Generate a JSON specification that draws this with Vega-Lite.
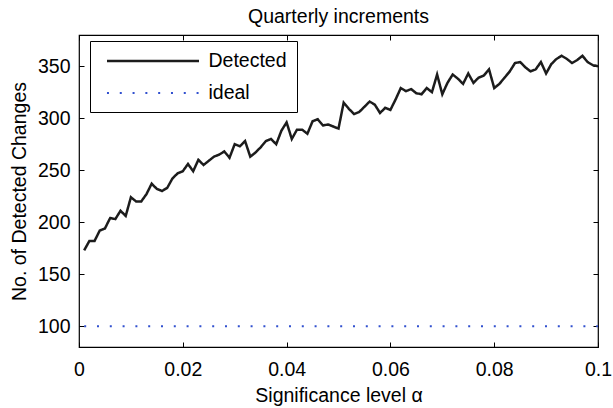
{
  "$schema": "https://vega.github.io/schema/vega-lite/v6.json",
  "autosize": {"type": "none"},
  "padding": {"left": 79, "top": 35, "right": 15, "bottom": 61},
  "width": 519,
  "height": 312,
  "background": "white",
  "title": {
    "text": "Quarterly increments",
    "font": "Liberation Sans",
    "fontSize": 19.5,
    "fontWeight": "normal",
    "color": "black",
    "offset": 7
  },
  "config": {
    "view": {"stroke": "black", "strokeWidth": 1.2},
    "axis": {
      "labelFont": "Liberation Sans",
      "titleFont": "Liberation Sans",
      "labelFontSize": 19.5,
      "titleFontSize": 19.5,
      "titleFontWeight": "normal",
      "labelColor": "black",
      "titleColor": "black",
      "domain": false,
      "grid": false,
      "tickColor": "black",
      "tickSize": -5,
      "tickWidth": 1
    }
  },
  "data": {
    "values": [
      {"alpha": 0.001, "count": 173, "series": "Detected"},
      {"alpha": 0.002, "count": 182, "series": "Detected"},
      {"alpha": 0.003, "count": 182, "series": "Detected"},
      {"alpha": 0.004, "count": 192, "series": "Detected"},
      {"alpha": 0.005, "count": 194, "series": "Detected"},
      {"alpha": 0.006, "count": 204, "series": "Detected"},
      {"alpha": 0.007, "count": 203, "series": "Detected"},
      {"alpha": 0.008, "count": 211, "series": "Detected"},
      {"alpha": 0.009, "count": 206, "series": "Detected"},
      {"alpha": 0.010, "count": 224, "series": "Detected"},
      {"alpha": 0.011, "count": 220, "series": "Detected"},
      {"alpha": 0.012, "count": 220, "series": "Detected"},
      {"alpha": 0.013, "count": 227, "series": "Detected"},
      {"alpha": 0.014, "count": 237, "series": "Detected"},
      {"alpha": 0.015, "count": 232, "series": "Detected"},
      {"alpha": 0.016, "count": 230, "series": "Detected"},
      {"alpha": 0.017, "count": 233, "series": "Detected"},
      {"alpha": 0.018, "count": 242, "series": "Detected"},
      {"alpha": 0.019, "count": 247, "series": "Detected"},
      {"alpha": 0.020, "count": 249, "series": "Detected"},
      {"alpha": 0.021, "count": 256, "series": "Detected"},
      {"alpha": 0.022, "count": 249, "series": "Detected"},
      {"alpha": 0.023, "count": 260, "series": "Detected"},
      {"alpha": 0.024, "count": 255, "series": "Detected"},
      {"alpha": 0.025, "count": 259, "series": "Detected"},
      {"alpha": 0.026, "count": 263, "series": "Detected"},
      {"alpha": 0.027, "count": 265, "series": "Detected"},
      {"alpha": 0.028, "count": 268, "series": "Detected"},
      {"alpha": 0.029, "count": 262, "series": "Detected"},
      {"alpha": 0.030, "count": 275, "series": "Detected"},
      {"alpha": 0.031, "count": 273, "series": "Detected"},
      {"alpha": 0.032, "count": 278, "series": "Detected"},
      {"alpha": 0.033, "count": 263, "series": "Detected"},
      {"alpha": 0.034, "count": 267, "series": "Detected"},
      {"alpha": 0.035, "count": 272, "series": "Detected"},
      {"alpha": 0.036, "count": 278, "series": "Detected"},
      {"alpha": 0.037, "count": 280, "series": "Detected"},
      {"alpha": 0.038, "count": 275, "series": "Detected"},
      {"alpha": 0.039, "count": 288, "series": "Detected"},
      {"alpha": 0.040, "count": 296, "series": "Detected"},
      {"alpha": 0.041, "count": 280, "series": "Detected"},
      {"alpha": 0.042, "count": 289, "series": "Detected"},
      {"alpha": 0.043, "count": 289, "series": "Detected"},
      {"alpha": 0.044, "count": 285, "series": "Detected"},
      {"alpha": 0.045, "count": 297, "series": "Detected"},
      {"alpha": 0.046, "count": 299, "series": "Detected"},
      {"alpha": 0.047, "count": 293, "series": "Detected"},
      {"alpha": 0.048, "count": 294, "series": "Detected"},
      {"alpha": 0.049, "count": 292, "series": "Detected"},
      {"alpha": 0.050, "count": 290, "series": "Detected"},
      {"alpha": 0.051, "count": 315, "series": "Detected"},
      {"alpha": 0.052, "count": 309, "series": "Detected"},
      {"alpha": 0.053, "count": 304, "series": "Detected"},
      {"alpha": 0.054, "count": 306, "series": "Detected"},
      {"alpha": 0.055, "count": 311, "series": "Detected"},
      {"alpha": 0.056, "count": 316, "series": "Detected"},
      {"alpha": 0.057, "count": 313, "series": "Detected"},
      {"alpha": 0.058, "count": 305, "series": "Detected"},
      {"alpha": 0.059, "count": 310, "series": "Detected"},
      {"alpha": 0.060, "count": 308, "series": "Detected"},
      {"alpha": 0.061, "count": 318, "series": "Detected"},
      {"alpha": 0.062, "count": 329, "series": "Detected"},
      {"alpha": 0.063, "count": 326, "series": "Detected"},
      {"alpha": 0.064, "count": 328, "series": "Detected"},
      {"alpha": 0.065, "count": 324, "series": "Detected"},
      {"alpha": 0.066, "count": 323, "series": "Detected"},
      {"alpha": 0.067, "count": 329, "series": "Detected"},
      {"alpha": 0.068, "count": 325, "series": "Detected"},
      {"alpha": 0.069, "count": 342, "series": "Detected"},
      {"alpha": 0.070, "count": 323, "series": "Detected"},
      {"alpha": 0.071, "count": 334, "series": "Detected"},
      {"alpha": 0.072, "count": 342, "series": "Detected"},
      {"alpha": 0.073, "count": 338, "series": "Detected"},
      {"alpha": 0.074, "count": 333, "series": "Detected"},
      {"alpha": 0.075, "count": 343, "series": "Detected"},
      {"alpha": 0.076, "count": 334, "series": "Detected"},
      {"alpha": 0.077, "count": 339, "series": "Detected"},
      {"alpha": 0.078, "count": 341, "series": "Detected"},
      {"alpha": 0.079, "count": 347, "series": "Detected"},
      {"alpha": 0.080, "count": 329, "series": "Detected"},
      {"alpha": 0.081, "count": 333, "series": "Detected"},
      {"alpha": 0.082, "count": 339, "series": "Detected"},
      {"alpha": 0.083, "count": 345, "series": "Detected"},
      {"alpha": 0.084, "count": 353, "series": "Detected"},
      {"alpha": 0.085, "count": 354, "series": "Detected"},
      {"alpha": 0.086, "count": 349, "series": "Detected"},
      {"alpha": 0.087, "count": 345, "series": "Detected"},
      {"alpha": 0.088, "count": 347, "series": "Detected"},
      {"alpha": 0.089, "count": 354, "series": "Detected"},
      {"alpha": 0.090, "count": 343, "series": "Detected"},
      {"alpha": 0.091, "count": 352, "series": "Detected"},
      {"alpha": 0.092, "count": 357, "series": "Detected"},
      {"alpha": 0.093, "count": 360, "series": "Detected"},
      {"alpha": 0.094, "count": 357, "series": "Detected"},
      {"alpha": 0.095, "count": 353, "series": "Detected"},
      {"alpha": 0.096, "count": 356, "series": "Detected"},
      {"alpha": 0.097, "count": 360, "series": "Detected"},
      {"alpha": 0.098, "count": 354, "series": "Detected"},
      {"alpha": 0.099, "count": 351, "series": "Detected"},
      {"alpha": 0.100, "count": 350, "series": "Detected"},
      {"alpha": 0.001, "count": 100, "series": "ideal"},
      {"alpha": 0.100, "count": 100, "series": "ideal"}
    ]
  },
  "layer": [
    {
      "mark": {"type": "line", "clip": true},
      "encoding": {
        "x": {
          "field": "alpha", "type": "quantitative",
          "scale": {"domain": [0, 0.1], "nice": false, "zero": false},
          "axis": {"orient": "bottom", "values": [0, 0.02, 0.04, 0.06, 0.08, 0.1], "format": "~g", "labelPadding": 18, "title": "Significance level α", "titlePadding": 8, "labelFlush": false}
        },
        "y": {
          "field": "count", "type": "quantitative",
          "scale": {"domain": [80, 380], "nice": false, "zero": false},
          "axis": {"orient": "left", "values": [100, 150, 200, 250, 300, 350], "labelPadding": 14, "title": "No. of Detected Changes", "titlePadding": 8}
        },
        "color": {
          "field": "series", "type": "nominal",
          "scale": {"domain": ["Detected", "ideal"], "range": ["#1c1c1c", "#3150cf"]},
          "legend": {
            "title": null,
            "orient": "none",
            "legendX": 11,
            "legendY": 6,
            "fillColor": "white",
            "strokeColor": "black",
            "padding": 9.5,
            "symbolType": "M-5,0H5",
            "symbolSize": 339,
            "symbolStrokeWidth": 2.5,
            "symbolOffset": 43,
            "labelFont": "Liberation Sans",
            "labelFontSize": 19.5,
            "labelColor": "black",
            "labelOffset": 45,
            "rowPadding": 12
          }
        },
        "strokeDash": {
          "field": "series", "type": "nominal",
          "scale": {"domain": ["Detected", "ideal"], "range": [[1, 0], [2, 10.8]]},
          "legend": null
        },
        "strokeWidth": {
          "field": "series", "type": "nominal",
          "scale": {"domain": ["Detected", "ideal"], "range": [2.5, 2]},
          "legend": null
        }
      }
    },
    {
      "mark": {"type": "line", "strokeOpacity": 0},
      "encoding": {
        "x": {
          "field": "alpha", "type": "quantitative",
          "axis": {"orient": "top", "values": [0, 0.02, 0.04, 0.06, 0.08, 0.1], "labels": false, "title": null}
        },
        "y": {
          "field": "count", "type": "quantitative",
          "axis": {"orient": "right", "values": [100, 150, 200, 250, 300, 350], "labels": false, "title": null}
        }
      }
    }
  ],
  "resolve": {"axis": {"x": "independent", "y": "independent"}}
}
